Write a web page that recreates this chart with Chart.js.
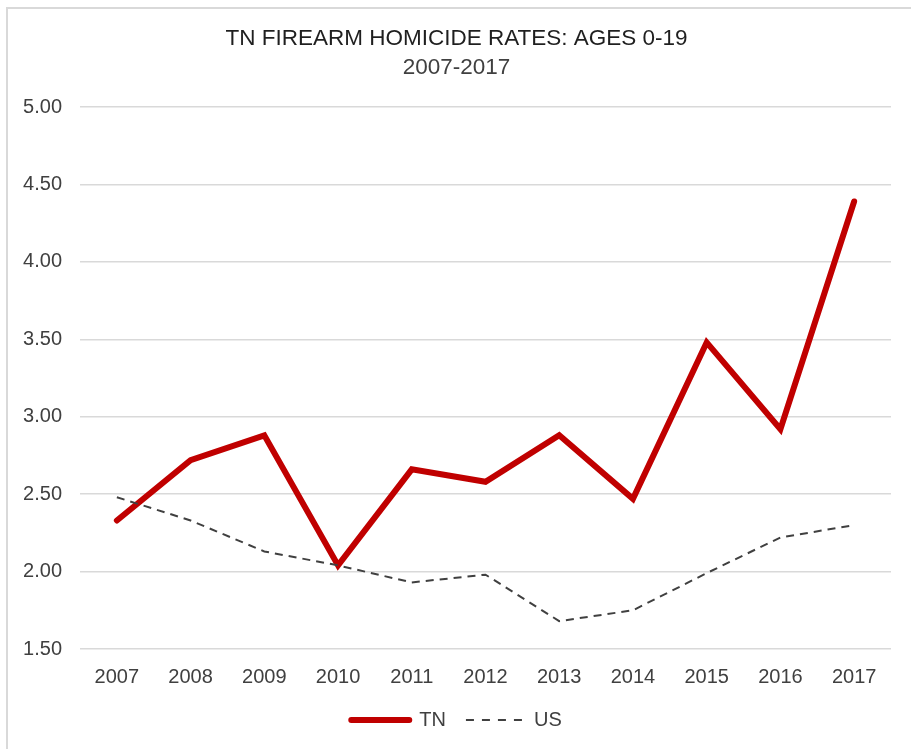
<!DOCTYPE html>
<html lang="en">
<head>
    <meta charset="UTF-8">
    <title>TN Firearm Homicide Rates</title>
    <script src="https://cdn.jsdelivr.net/npm/chart.js"></script>
    <style>
        html, body {
            margin: 0;
            padding: 0;
            background: #fff;
            overflow: hidden;
        }
        #frame {
            position: absolute;
            left: 6px;
            top: 7px;
            width: 903px;
            height: 740px;
            border-left: 2px solid #d9d9d9;
            border-top: 2px solid #d9d9d9;
        }
        canvas {
            display: block;
        }
    </style>
</head>
<body>
    <div id="frame">
        <canvas id="rateChart" width="903" height="740"></canvas>
    </div>
    <script>
        // rates per 100,000
        const years = ['2007', '2008', '2009', '2010', '2011', '2012', '2013', '2014', '2015', '2016', '2017'];
        const tnRates = [2.33, 2.72, 2.88, 2.04, 2.66, 2.58, 2.88, 2.47, 3.48, 2.92, 4.39];
        const usRates = [2.48, 2.33, 2.13, 2.04, 1.93, 1.98, 1.68, 1.75, 1.99, 2.22, 2.30];

        const fontFamily = '"Liberation Sans", Arial, Helvetica, sans-serif';

        const ctx = document.getElementById('rateChart').getContext('2d');

        // legend entries drawn as short line samples, dashed for US
        function legendLabels(chart) {
            const items = Chart.defaults.plugins.legend.labels.generateLabels(chart);
            items.forEach(item => {
                const ds = chart.data.datasets[item.datasetIndex];
                item.lineWidth = ds.borderWidth;
                item.lineCap = ds.borderCapStyle || 'butt';
                item.lineDash = ds.borderDash ? [8, 8] : [];
                item.strokeStyle = ds.borderColor;
            });
            return items;
        }

        new Chart(ctx, {
            type: 'line',
            data: {
                labels: years,
                datasets: [
                    {
                        label: 'TN',
                        data: tnRates,
                        borderColor: '#c00000',
                        backgroundColor: '#c00000',
                        borderWidth: 6,
                        borderCapStyle: 'round',
                        borderJoinStyle: 'miter',
                        pointRadius: 0,
                        tension: 0,
                        order: 1
                    },
                    {
                        label: 'US',
                        data: usRates,
                        borderColor: '#404040',
                        backgroundColor: '#404040',
                        borderWidth: 2,
                        borderDash: [8, 6],
                        pointRadius: 0,
                        tension: 0,
                        order: 0
                    }
                ]
            },
            options: {
                responsive: false,
                animation: false,
                layout: {
                    padding: { left: 14, right: 20, top: 0, bottom: 9 }
                },
                scales: {
                    x: {
                        offset: true,
                        grid: { display: false, drawTicks: false },
                        border: { display: false },
                        ticks: {
                            color: '#404040',
                            font: { family: fontFamily, size: 20 },
                            padding: 16,
                            maxRotation: 0
                        },
                        afterFit: (scale) => { scale.height = 41; }
                    },
                    y: {
                        min: 1.5,
                        max: 5,
                        grid: {
                            color: '#d9d9d9',
                            lineWidth: 1.5,
                            drawTicks: false
                        },
                        border: { display: false },
                        ticks: {
                            stepSize: 0.5,
                            color: '#404040',
                            font: { family: fontFamily, size: 20 },
                            padding: 18,
                            callback: (v) => Number(v).toFixed(2)
                        },
                        afterFit: (scale) => { scale.width = 58; }
                    }
                },
                plugins: {
                    title: {
                        display: true,
                        text: 'TN FIREARM HOMICIDE RATES: AGES 0-19',
                        color: '#1f1f1f',
                        font: { family: fontFamily, size: 22.5, weight: 'normal' },
                        padding: { top: 16, bottom: 0 }
                    },
                    subtitle: {
                        display: true,
                        text: '2007-2017',
                        color: '#404040',
                        font: { family: fontFamily, size: 22.5 },
                        padding: { top: 2, bottom: 26 }
                    },
                    legend: {
                        display: true,
                        position: 'bottom',
                        labels: {
                            usePointStyle: true,
                            pointStyle: 'line',
                            pointStyleWidth: 58,
                            boxWidth: 58,
                            padding: 20,
                            color: '#404040',
                            font: { family: fontFamily, size: 20 },
                            generateLabels: legendLabels,
                            sort: (a, b) => a.datasetIndex - b.datasetIndex
                        }
                    },
                    tooltip: { enabled: false }
                }
            }
        });
    </script>
</body>
</html>
